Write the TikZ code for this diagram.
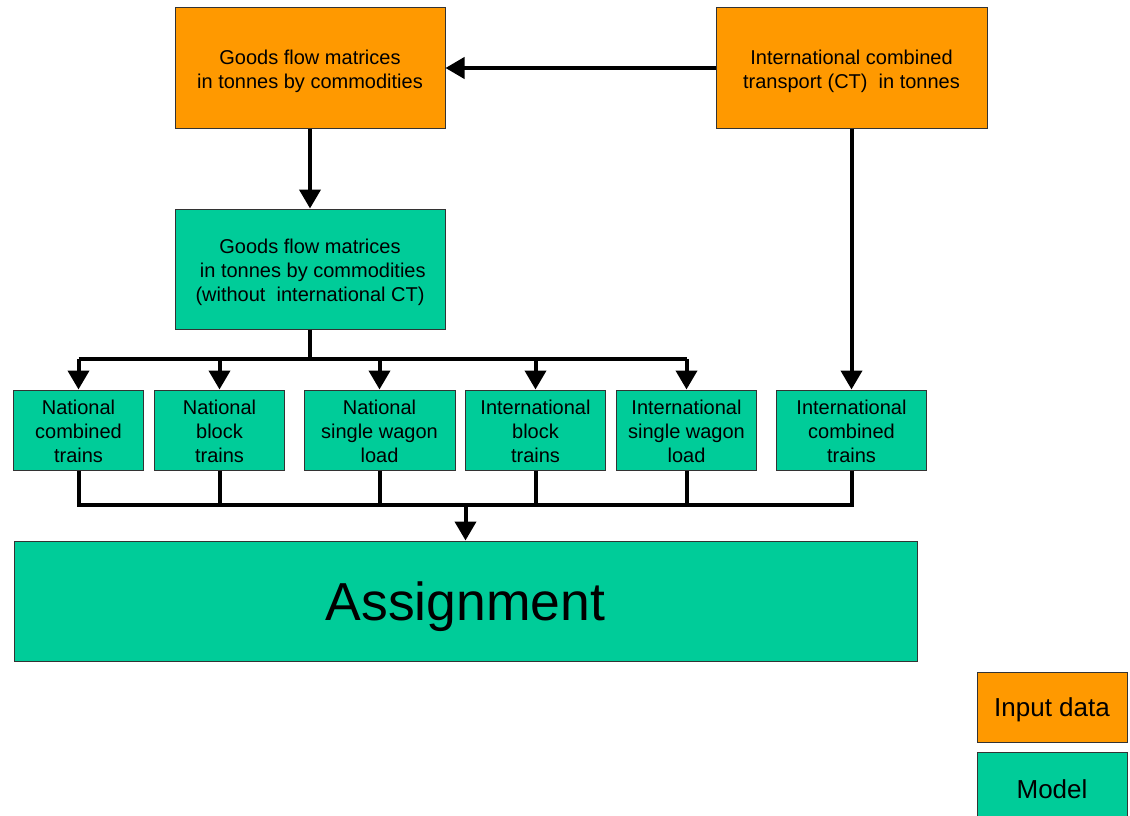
\documentclass[tikz,border=0pt]{standalone}
\usepackage{fontspec}
\setmainfont{Liberation Sans}
\usetikzlibrary{arrows.meta}
\definecolor{inorange}{HTML}{FF9900}
\definecolor{modgreen}{HTML}{00CC99}
\newcommand\mltext[2]{\raisebox{#1}[\height][\depth]{\begin{tabular}{@{}c@{}}#2\end{tabular}}}
\newcommand\sltext[2]{\raisebox{#1}[\height][\depth]{#2}}
\begin{document}
\begin{tikzpicture}[x=1pt,y=-1pt,
  box/.style={draw=black!80, line width=1pt, inner sep=0pt,
    font=\fontsize{20}{24}\selectfont},
  inbox/.style={box, fill=inorange},
  modbox/.style={box, fill=modgreen},
  conn/.style={line width=4pt, line join=miter},
  arr/.style={conn, -{Triangle[width=21pt,length=19pt]}}]
\clip (0,0) rectangle (1130,816);
\fill[white] (0,0) rectangle (1130,816);
% boxes
\node[inbox, minimum width=270pt, minimum height=120pt] (gf) at (310,68)
  {\mltext{-4pt}{Goods flow matrices\\in tonnes by commodities}};
\node[inbox, minimum width=271pt, minimum height=120pt] (ct) at (851.5,68)
  {\mltext{-4pt}{International combined\\transport (CT)\ \ in tonnes}};
\node[modbox, minimum width=270pt, minimum height=120pt] (gm) at (310,269)
  {\mltext{-4pt}{Goods flow matrices\\\ in tonnes by commodities\\(without\ \ international CT)}};
\node[modbox, minimum width=130pt, minimum height=80pt] (r1) at (78.5,430)
  {\mltext{-4pt}{National\\combined\\trains}};
\node[modbox, minimum width=130pt, minimum height=80pt] (r2) at (219.5,430)
  {\mltext{-4pt}{National\\block\\trains}};
\node[modbox, minimum width=151pt, minimum height=80pt] (r3) at (379.5,430)
  {\mltext{-4pt}{National\\single wagon\\load}};
\node[modbox, minimum width=140pt, minimum height=80pt] (r4) at (535.5,430)
  {\mltext{-4pt}{International\\block\\trains}};
\node[modbox, minimum width=140pt, minimum height=80pt] (r5) at (686.5,430)
  {\mltext{-4pt}{International\\single wagon\\load}};
\node[modbox, minimum width=150pt, minimum height=80pt] (r6) at (851.5,430)
  {\mltext{-4pt}{International\\combined\\trains}};
\node[modbox, minimum width=903pt, minimum height=120pt,
  font=\fontsize{53.5}{60}\selectfont] (as) at (465.5,601) {\sltext{-6pt}{Assignment}};
\node[inbox, minimum width=150pt, minimum height=70pt,
  font=\fontsize{26}{30}\selectfont] (lin) at (1052,707) {\sltext{-3pt}{Input data}};
\node[modbox, minimum width=150pt, minimum height=70pt,
  font=\fontsize{26}{30}\selectfont] (lmod) at (1052,787) {\sltext{-2pt}{Model}};
% connectors
\coordinate (split) at (310,359);
\coordinate (join) at (465.5,505);
\draw[arr] (ct.west) -- (gf.east);
\draw[arr] (gf.south) -- (gm.north);
\draw[arr] (ct.south) -- (r6.north);
\draw[conn] (gm.south) -- (split);
\draw[conn] (r1.north |- split) -- (r5.north |- split);
\foreach \n in {r1,r2,r3,r4,r5}
  \draw[arr] (\n.north |- split) -- (\n.north);
\draw[conn] (r1.south) -- (r1.south |- join) -- (r6.south |- join) -- (r6.south);
\foreach \n in {r2,r3,r4,r5}
  \draw[conn] (\n.south) -- (\n.south |- join);
\draw[arr] (join) -- (as.north);
\end{tikzpicture}
\end{document}
